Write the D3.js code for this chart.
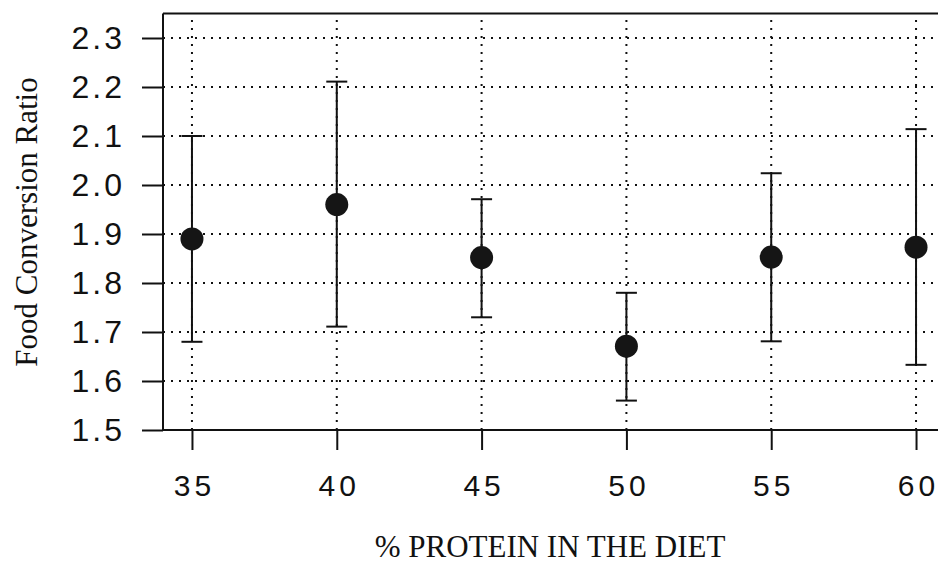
<html>
<head>
<meta charset="utf-8">
<script src="https://d3js.org/d3.v7.min.js"></script>
<style>
body { margin: 0; background: #fff; }
</style>
</head>
<body>
<svg id="chart"></svg>
<script>

var protein = [35, 40, 45, 50, 55, 60];
var fcr = [1.89, 1.96, 1.852, 1.671, 1.853, 1.873];
var fcrLow = [1.68, 1.711, 1.73, 1.56, 1.681, 1.633];
var fcrHigh = [2.10, 2.211, 1.971, 1.78, 2.024, 2.114];
var yTicks = [1.5, 1.6, 1.7, 1.8, 1.9, 2.0, 2.1, 2.2, 2.3];

draw();

function draw(){
	var svg = d3.select("#chart").attr("width", 938).attr("height", 565);

	var x = d3.scaleLinear().domain([34, 61]).range([163, 945]);
	var y = d3.scaleLinear().domain([1.5, 2.35]).range([430, 13.5]);

	// dotted grid
	svg.append("g").selectAll("line")
		.data(yTicks.slice(1))
		.enter().append("line")
		.attr("x1", x(34)).attr("x2", 938)
		.attr("y1", function(d){ return y(d); })
		.attr("y2", function(d){ return y(d); })
		.attr("stroke", "#111").attr("stroke-width", 2)
		.attr("stroke-dasharray", "2,6");
	svg.append("g").selectAll("line")
		.data(protein)
		.enter().append("line")
		.attr("x1", function(d){ return x(d); })
		.attr("x2", function(d){ return x(d); })
		.attr("y1", y(1.5)).attr("y2", y(2.35))
		.attr("stroke", "#111").attr("stroke-width", 2)
		.attr("stroke-dasharray", "2,6");

	// axes
	var yAxis = svg.append("g")
		.attr("transform", "translate(" + x(34) + ",0)")
		.call(d3.axisLeft(y).tickValues(yTicks).tickSize(21).tickPadding(20)
			.tickFormat(d3.format(".1f")));
	var xAxis = svg.append("g")
		.attr("transform", "translate(0," + y(1.5) + ")")
		.call(d3.axisBottom(x).tickValues(protein).tickSize(20).tickPadding(25));

	[yAxis, xAxis].forEach(function(a){
		a.select(".domain").remove();
		a.selectAll(".tick line").attr("stroke", "#111").attr("stroke-width", 2);
		a.selectAll("text")
			.attr("fill", "#111")
			.style("font-family", "'Liberation Sans', Arial, sans-serif");
	});
	yAxis.selectAll("text")
		.style("font-size", "32px")
		.style("letter-spacing", "3px")
		.attr("dx", "3px");
	xAxis.selectAll("text")
		.style("font-size", "30px")
		.style("letter-spacing", "4px")
		.attr("dx", "2px");

	// frame
	svg.append("line").attr("x1", x(34)).attr("x2", x(34))
		.attr("y1", y(2.35)).attr("y2", y(1.5))
		.attr("stroke", "#111").attr("stroke-width", 2);
	svg.append("line").attr("x1", x(34)).attr("x2", 938)
		.attr("y1", y(1.5)).attr("y2", y(1.5))
		.attr("stroke", "#111").attr("stroke-width", 2);
	svg.append("line").attr("x1", x(34)).attr("x2", 938)
		.attr("y1", y(2.35)).attr("y2", y(2.35))
		.attr("stroke", "#111").attr("stroke-width", 2);

	// error bars
	var bars = svg.append("g").selectAll("g")
		.data(protein)
		.enter().append("g");
	bars.append("line")
		.attr("x1", function(d){ return x(d); })
		.attr("x2", function(d){ return x(d); })
		.attr("y1", function(d, i){ return y(fcrLow[i]); })
		.attr("y2", function(d, i){ return y(fcrHigh[i]); })
		.attr("stroke", "#111").attr("stroke-width", 2);
	bars.append("line")
		.attr("x1", function(d){ return x(d) - 10.5; })
		.attr("x2", function(d){ return x(d) + 10.5; })
		.attr("y1", function(d, i){ return y(fcrHigh[i]); })
		.attr("y2", function(d, i){ return y(fcrHigh[i]); })
		.attr("stroke", "#111").attr("stroke-width", 2);
	bars.append("line")
		.attr("x1", function(d){ return x(d) - 10.5; })
		.attr("x2", function(d){ return x(d) + 10.5; })
		.attr("y1", function(d, i){ return y(fcrLow[i]); })
		.attr("y2", function(d, i){ return y(fcrLow[i]); })
		.attr("stroke", "#111").attr("stroke-width", 2);
	bars.append("circle")
		.attr("cx", function(d){ return x(d); })
		.attr("cy", function(d, i){ return y(fcr[i]); })
		.attr("r", 11.5)
		.attr("fill", "#151515");

	// axis titles
	svg.append("text")
		.attr("x", 550).attr("y", 557)
		.attr("text-anchor", "middle")
		.style("font-family", "'Liberation Serif', 'Times New Roman', serif")
		.style("font-size", "31px")
		.attr("fill", "#111")
		.text("% PROTEIN IN THE DIET");
	svg.append("text")
		.attr("transform", "translate(37,222) rotate(-90)")
		.attr("text-anchor", "middle")
		.style("font-family", "'Liberation Serif', 'Times New Roman', serif")
		.style("font-size", "31px")
		.attr("fill", "#111")
		.text("Food Conversion Ratio");
}

</script>
</body>
</html>
